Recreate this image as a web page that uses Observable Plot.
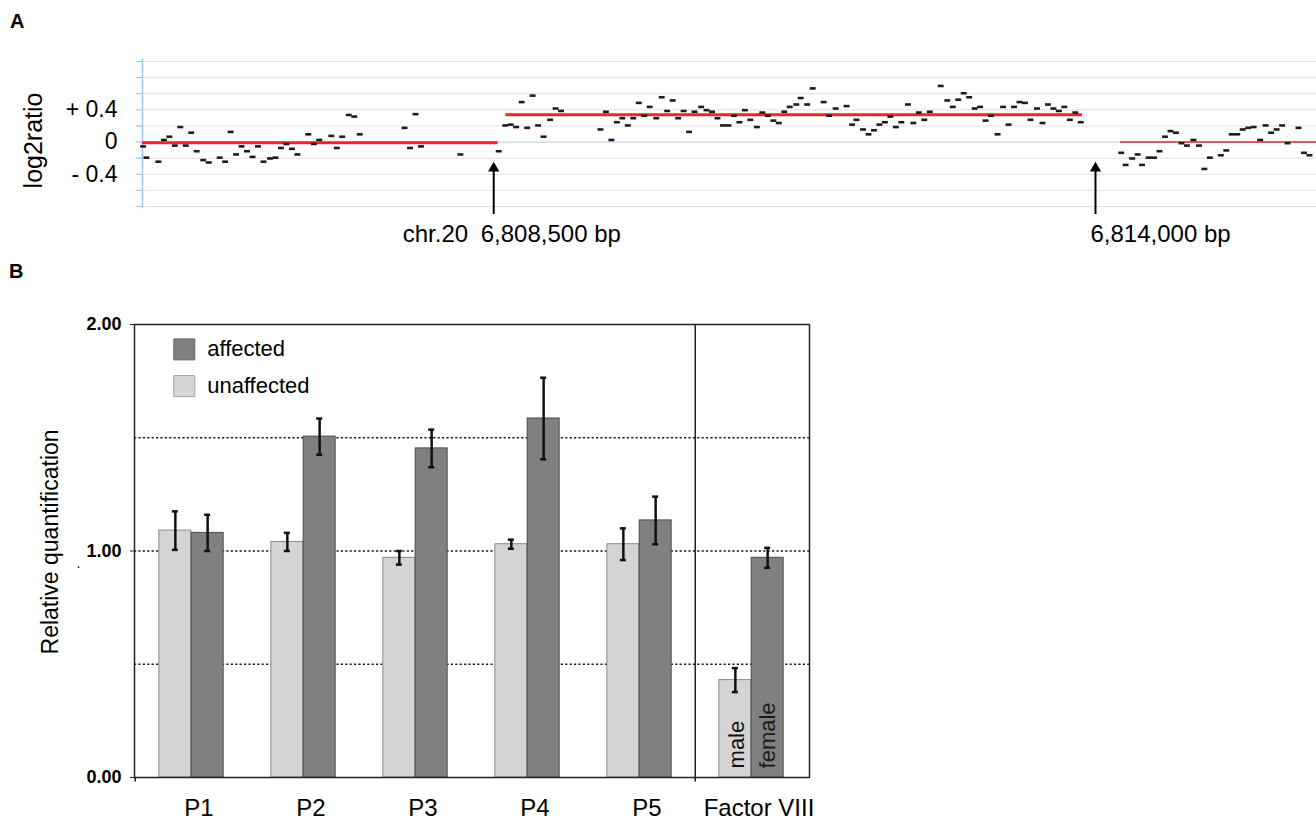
<!DOCTYPE html>
<html>
<head>
<meta charset="utf-8">
<script src="https://cdn.jsdelivr.net/npm/d3@7"></script>
<script src="https://cdn.jsdelivr.net/npm/@observablehq/plot@0.6"></script>
<style>
  body { margin: 0; background: #fff; font-family: "Liberation Sans", Arial, sans-serif; }
  #wrap { position: relative; width: 1316px; height: 823px; overflow: hidden; }
  #a, #b { position: absolute; left: 0; }
  #a { top: 0; }
  #b { top: 290px; }
  .plabel { position: absolute; font-weight: bold; font-size: 20px; line-height: 20px; color: #000; }
</style>
</head>
<body>
<div id="wrap">
  <div id="a"></div>
  <div id="b"></div>
  <div class="plabel" style="left:10px; top:11px;">A</div>
  <div class="plabel" style="left:9px; top:261px;">B</div>
</div>
<script>
// ---------- Panel A data: array CGH probes (chr.20) ----------
const probeBp = [
  6805300,6805330,6805440,6805490,6805540,6805590,6805640,6805690,6805740,6805790,
  6805850,6805900,6806000,6806050,6806100,6806150,6806200,6806250,6806300,6806350,
  6806400,6806460,6806510,6806560,6806610,6806660,6806710,6806810,6806860,6806910,
  6807020,6807070,6807120,6807180,6807230,6807280,6807690,6807740,6807790,6807840,
  6808200,6808550,
  6808610,6808660,6808710,6808760,6808810,6808860,6808910,6808960,6809020,6809070,
  6809120,6809480,6809530,6809580,6809630,6809680,6809730,6809780,6809830,6809880,
  6809930,6809990,6810040,6810090,6810140,6810190,6810240,6810290,6810340,6810400,
  6810450,6810500,6810550,6810600,6810650,6810700,6810750,6810800,6810850,6810910,
  6810960,6811010,6811060,6811110,6811160,6811210,6811270,6811310,6811370,6811420,
  6811520,6811570,6811630,6811730,6811780,6811820,6811880,6811930,6811980,6812030,
  6812080,6812130,6812180,6812230,6812290,6812340,6812390,6812440,6812490,6812590,
  6812650,6812700,6812750,6812800,6812850,6812900,6812950,6813000,6813050,6813110,
  6813160,6813210,6813260,6813310,6813360,6813410,6813470,6813520,6813570,6813620,
  6813670,6813720,6813770,6813820,6813870,
  6814240,6814280,6814340,6814390,6814430,6814490,6814540,6814590,6814640,6814690,
  6814740,6814790,6814840,6814900,6814950,6815000,6815050,6815150,6815200,6815250,
  6815300,6815350,6815400,6815450,6815510,6815560,6815610,6815660,6815710,6815760,
  6815860,6815910,6815960
];
const probeLog2 = [
  -0.06,-0.20,-0.25,0.02,0.06,-0.05,0.18,-0.05,0.11,-0.12,
  -0.23,-0.26,-0.20,-0.25,0.12,-0.16,-0.06,-0.12,-0.19,-0.06,
  -0.25,-0.21,-0.20,-0.08,-0.03,-0.09,-0.16,0.09,-0.03,0.02,
  0.07,-0.08,0.06,0.33,0.31,0.09,0.17,-0.08,0.34,-0.06,
  -0.16,-0.12,
  0.20,0.21,0.18,0.49,0.17,0.57,0.20,0.06,0.27,0.41,
  0.38,0.15,0.37,0.02,0.24,0.29,0.20,0.29,0.48,0.32,
  0.43,0.29,0.55,0.38,0.51,0.29,0.38,0.12,0.37,0.43,
  0.39,0.37,0.29,0.20,0.20,0.32,0.24,0.39,0.27,0.18,
  0.36,0.32,0.26,0.23,0.37,0.43,0.46,0.54,0.46,0.66,
  0.49,0.32,0.41,0.44,0.21,0.27,0.15,0.09,0.14,0.21,
  0.24,0.31,0.18,0.24,0.46,0.23,0.36,0.27,0.37,0.69,
  0.51,0.43,0.52,0.60,0.55,0.41,0.43,0.26,0.32,0.09,
  0.43,0.21,0.43,0.49,0.48,0.27,0.41,0.23,0.46,0.41,
  0.38,0.43,0.27,0.36,0.24,
  -0.14,-0.29,-0.21,-0.16,-0.29,-0.20,-0.20,-0.12,0.06,0.13,
  0.11,-0.02,-0.05,0.02,-0.05,-0.34,-0.20,-0.17,-0.11,0.09,
  0.09,0.15,0.17,0.18,0.02,0.20,0.11,0.15,0.20,-0.02,
  0.17,-0.14,-0.17
];
// segmentation (red lines)
const segStart = [6805290, 6808610, 6814230];
const segEnd   = [6808540, 6813880, 6816020];
const segMean  = [-0.01, 0.34, 0.00];
// breakpoints and labels
const breakBp = [6808500, 6814000];
const breakLabels = ["6,808,500 bp", "6,814,000 bp"];
const chrLabel = "chr.20";
const yGrid = [-0.8, -0.6, -0.4, -0.2, 0, 0.2, 0.4, 0.6, 0.8, 1.0];
const yTickValues = [0.4, 0, -0.4];
const yTickLabels = ["+ 0.4", "0", "- 0.4"];

// ---------- Panel B data: qPCR relative quantification ----------
const groups = ["P1", "P2", "P3", "P4", "P5", "Factor VIII"];
const unaffected    = [1.09, 1.04, 0.97, 1.03, 1.03, 0.43];
const unaffectedErr = [0.085, 0.04, 0.03, 0.02, 0.07, 0.053];
const affected      = [1.08, 1.505, 1.453, 1.585, 1.135, 0.97];
const affectedErr   = [0.08, 0.08, 0.083, 0.18, 0.105, 0.044];
const legendLabels = ["affected", "unaffected"];
const factorLabels = ["male", "female"];
const bTicks = [0, 1, 2];
const bGrid = [0.5, 1, 1.5];

const FONT = "'Liberation Sans', Arial, sans-serif";

// ---------- Panel A ----------
const probes = probeBp.map((bp, i) => ({bp, v: probeLog2[i]}));
const segs = segStart.map((s, i) => ({s, e: segEnd[i], v: segMean[i], w: i === 2 ? 1.6 : 3}));
const x0 = segStart[0];

const chartA = Plot.plot({
  width: 1316, height: 255,
  marginLeft: 142, marginRight: 0, marginTop: 61, marginBottom: 49,
  x: {domain: [6805290, 6816020], axis: null},
  y: {domain: [-0.8, 1.0], axis: null},
  style: {fontFamily: FONT, background: "transparent", overflow: "visible", color: "#000"},
  marks: [
    Plot.ruleY(yGrid.filter(d => d !== 0), {stroke: "#e0e0e0", strokeWidth: 1}),
    Plot.ruleY([0], {stroke: "#bcd6ef", strokeWidth: 1.2}),
    Plot.ruleX([x0], {y1: -0.83, y2: 1.03, stroke: "#9ec5ea", strokeWidth: 1.5}),
    Plot.link(yGrid, {x1: x0 - 64, x2: x0, y1: d => d, y2: d => d, stroke: "#9ec5ea", strokeWidth: 1.2}),
    Plot.ruleY(segs, {y: "v", x1: "s", x2: "e", stroke: "#e8262d", strokeWidth: d => d.w}),
    Plot.rect(probes, {x1: d => d.bp - 27, x2: d => d.bp + 27, y1: d => d.v - 0.016, y2: d => d.v + 0.016, fill: "#1c1c1c"}),
    Plot.ruleX(breakBp, {x: d => d, y1: -0.9, y2: -0.33, stroke: "#000", strokeWidth: 2}),
    Plot.dot(breakBp, {x: d => d, y: -0.325, symbol: "triangle", r: 4.2, fill: "#000", stroke: null}),
    Plot.text(yTickLabels, {y: (d, i) => yTickValues[i], text: d => d, frameAnchor: "left", dx: -25, textAnchor: "end", lineAnchor: "middle", fontSize: 23}),
    Plot.text(["log2ratio"], {y: () => 0.02, frameAnchor: "left", dx: -109, rotate: -90, textAnchor: "middle", lineAnchor: "middle", fontSize: 25}),
    Plot.text([breakLabels[0]], {x: () => breakBp[0], text: d => d, frameAnchor: "bottom", dy: 28.3, dx: -13, textAnchor: "start", lineAnchor: "middle", fontSize: 24}),
    Plot.text([breakLabels[1]], {x: () => breakBp[1], text: d => d, frameAnchor: "bottom", dy: 28.3, dx: -5, textAnchor: "start", lineAnchor: "middle", fontSize: 24}),
    Plot.text([chrLabel], {x: () => breakBp[0], text: d => d, frameAnchor: "bottom", dy: 28.3, dx: -91, textAnchor: "start", lineAnchor: "middle", fontSize: 24})
  ]
});
document.getElementById("a").appendChild(chartA);

// ---------- Panel B ----------
const unaffData = groups.map((g, i) => ({g, v: unaffected[i], e: unaffectedErr[i]}));
const affData   = groups.map((g, i) => ({g, v: affected[i], e: affectedErr[i]}));
const HALF = 16.15;

function errMarks(data, dx) {
  return [
    Plot.ruleX(data, {x: "g", y1: d => d.v - d.e, y2: d => d.v + d.e, dx, stroke: "#111", strokeWidth: 2.5}),
    Plot.tickY(data, {x: "g", y: d => d.v - d.e, dx, insetLeft: 13, insetRight: 13, stroke: "#111", strokeWidth: 2.5}),
    Plot.tickY(data, {x: "g", y: d => d.v + d.e, dx, insetLeft: 13, insetRight: 13, stroke: "#111", strokeWidth: 2.5})
  ];
}

const chartB = Plot.plot({
  width: 1316, height: 533,
  marginLeft: 134, marginRight: 507, marginTop: 34, marginBottom: 46,
  x: {domain: groups, paddingInner: 0.713, paddingOuter: 0.3565, axis: null},
  y: {domain: [0, 2], axis: null},
  style: {fontFamily: FONT, background: "transparent", overflow: "visible", color: "#000"},
  marks: [
    Plot.ruleY(bGrid, {stroke: "#1a1a1a", strokeWidth: 1.4, strokeDasharray: "2.2,2.2"}),
    Plot.barY(unaffData, {x: "g", y: "v", dx: -HALF, fill: "#d4d4d4", stroke: "#8a8a8a", strokeWidth: 1}),
    Plot.barY(affData, {x: "g", y: "v", dx: HALF, fill: "#808080", stroke: "#4a4a4a", strokeWidth: 1}),
    ...errMarks(unaffData, -HALF),
    ...errMarks(affData, HALF),
    Plot.text([factorLabels[0]], {x: () => groups[5], y: () => 0.04, text: d => d, dx: -HALF + 1.5, rotate: -90, textAnchor: "start", lineAnchor: "middle", fontSize: 22, fill: "#111"}),
    Plot.text([factorLabels[1]], {x: () => groups[5], y: () => 0.04, text: d => d, dx: HALF, rotate: -90, textAnchor: "start", lineAnchor: "middle", fontSize: 22, fill: "#1a1a1a"}),
    Plot.frame({stroke: "#222", strokeWidth: 1.5}),
    Plot.ruleX([groups[5]], {x: d => d, dx: -56.25, y1: -0.02, y2: 2, stroke: "#222", strokeWidth: 1.5}),
    Plot.ruleX([groups[0]], {x: d => d, dx: -56.25, y1: -0.02, y2: 0, stroke: "#222", strokeWidth: 1.5}),
    Plot.axisY({ticks: bTicks, tickSize: 4, tickPadding: 9, tickFormat: d3.format(".2f"), fontSize: 18, fontWeight: "bold", anchor: "left", stroke: "#222", label: null}),
    Plot.axisX({tickSize: 0, tickPadding: 21, fontSize: 24, dx: 7.5, anchor: "bottom", label: null}),
    Plot.dot(legendLabels, {y: (d, i) => 1.89 - i * 0.162, frameAnchor: "left", dx: 49.8, symbol: "square", r: 11.85,
      fill: (d, i) => i === 0 ? "#808080" : "#d6d6d6", stroke: (d, i) => i === 0 ? "#6a6a6a" : "#a0a0a0", strokeWidth: 1}),
    Plot.text(legendLabels, {y: (d, i) => 1.89 - i * 0.162, text: d => d, frameAnchor: "left", dx: 72.7, textAnchor: "start", lineAnchor: "middle", fontSize: 22}),
    Plot.text(["Relative quantification"], {y: () => 1.04, frameAnchor: "left", dx: -84, rotate: -90, textAnchor: "middle", lineAnchor: "middle", fontSize: 23}),
    Plot.text(["."], {y: () => 0.945, frameAnchor: "left", dx: -56, textAnchor: "middle", fontSize: 14})
  ]
});
document.getElementById("b").appendChild(chartB);
</script>
</body>
</html>
